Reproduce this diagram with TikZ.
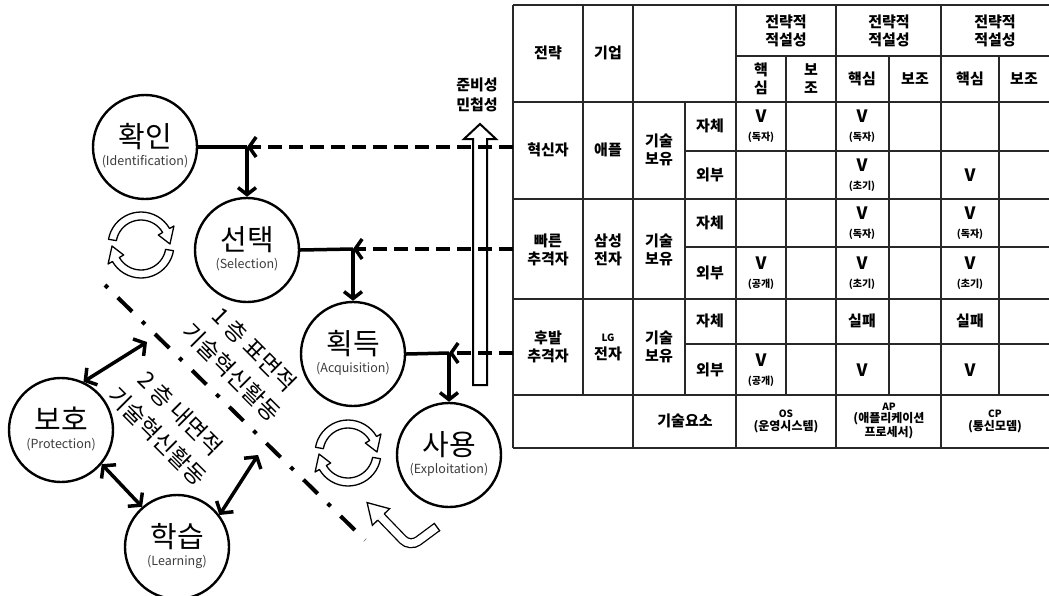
\documentclass[tikz,border=0pt]{standalone}
\usepackage{fontspec}
\setmainfont{Noto Sans CJK KR}
\usetikzlibrary{arrows.meta,positioning}
\definecolor{LineGray}{RGB}{40,40,40}
\definecolor{NoteGray}{RGB}{60,60,60}
\tikzset{
  stage/.style={circle, draw, line width=2.4pt, minimum size=104pt, inner sep=0pt,
    font=\fontsize{29}{30}\selectfont, text height=21pt, text depth=21pt},
  sub/.style={font=\fontsize{12.5}{13}\selectfont, text=NoteGray, inner sep=0pt, yshift=-15pt},
  link/.style={line width=3.5pt, -{Straight Barb[length=7pt,width=18pt]}},
  twolink/.style={line width=3.5pt, {Straight Barb[length=8pt,width=20pt]}-{Straight Barb[length=8pt,width=20pt]}},
  feed/.style={line width=3.5pt, dash pattern=on 14pt off 7pt, -{Straight Barb[length=7pt,width=20pt]}},
  hollow/.style={draw, line width=1.3pt, fill=white, line join=round},
  cell/.style={font=\bfseries\fontsize{15}{18}\selectfont, align=center, inner sep=0pt},
  grid/.style={line width=1.2pt, draw=LineGray},
  layer/.style={rotate=-45, align=center, font=\fontsize{23}{32}\selectfont, inner sep=0pt},
}
\newcommand{\vcheck}[1]{{\fontsize{17}{17}\selectfont V}\\{\fontsize{10}{12}\selectfont(#1)}}
\newcommand{\vbig}{{\fontsize{17}{17}\selectfont V}}
% one hollow arrow bent round a circle: centre x, centre y, start, end of band, tip
\newcommand{\hollowarc}[5]{%
  \draw[hollow] plot[domain=#3:#4, samples=20] ({#1+33*cos(\x)},{#2+33*sin(\x)})
    -- ({#1+38*cos(#4)},{#2+38*sin(#4)})
    -- ({#1+29*cos(#5)},{#2+29*sin(#5)})
    -- ({#1+20*cos(#4)},{#2+20*sin(#4)})
    -- plot[domain=#4:#3, samples=20] ({#1+25*cos(\x)},{#2+25*sin(\x)})
    -- cycle;}
\newcommand{\cycleicon}[2]{\hollowarc{#1}{#2}{190}{330}{358}\hollowarc{#1}{#2}{10}{150}{178}}

\begin{document}
\begin{tikzpicture}[x=1pt,y=-1pt]
\useasboundingbox (0,0) rectangle (1049,595);

% table grid
\draw[grid] (513,5) -- (1049,5);
\draw[grid] (736,56) -- (1049,56);
\foreach \y in {102,199,299,395,448} \draw[grid] (513,\y) -- (1049,\y);
\foreach \y in {151,247,344} \draw[grid] (685,\y) -- (1049,\y);
\foreach \x in {513,633,736,836,941} \draw[grid] (\x,5) -- (\x,448);
\draw[grid] (583,5) -- (583,395);
\draw[grid] (685,102) -- (685,395);
\foreach \x in {786,889,999} \draw[grid] (\x,56) -- (\x,395);

% header
\node[cell] (h-strat) at (548,53) {전략};
\node[cell] (h-firm) at (608,53) {기업};
\foreach \x/\n in {786/a,889/b,995/c} \node[cell] (h-fit\n) at (\x,31) {전략적\\적설성};
\node[cell] (h-core1) at (761,79) {핵\\심};
\node[cell] (h-sub1) at (811,79) {보\\조};
\node[cell] (h-core2) at (862,79) {핵심};
\node[cell] (h-sub2) at (915,79) {보조};
\node[cell] (h-core3) at (970,79) {핵심};
\node[cell] (h-sub3) at (1024,79) {보조};

% innovator
\node[cell] (r1-strat) at (548,150) {혁신자};
\node[cell] (r1-firm) at (608,150) {애플};
\node[cell] (r1-tech) at (659,150) {기술\\보유};
\node[cell] (r1-own) at (710,126) {자체};
\node[cell] (r1-ext) at (710,175) {외부};
\node[cell] (r1-os) at (761,126) {\vcheck{독자}};
\node[cell] (r1-ap) at (862,126) {\vcheck{독자}};
\node[cell] (r1-apx) at (862,175) {\vcheck{초기}};
\node[cell] (r1-cpx) at (970,175) {\vbig};

% fast follower
\node[cell] (r2-strat) at (548,250) {빠른\\추격자};
\node[cell] (r2-firm) at (608,250) {삼성\\전자};
\node[cell] (r2-tech) at (659,250) {기술\\보유};
\node[cell] (r2-own) at (710,223) {자체};
\node[cell] (r2-ext) at (710,273) {외부};
\node[cell] (r2-ap) at (862,223) {\vcheck{독자}};
\node[cell] (r2-cp) at (970,223) {\vcheck{독자}};
\node[cell] (r2-osx) at (761,273) {\vcheck{공개}};
\node[cell] (r2-apx) at (862,273) {\vcheck{초기}};
\node[cell] (r2-cpx) at (970,273) {\vcheck{초기}};

% late follower
\node[cell] (r3-strat) at (548,347) {후발\\추격자};
\node[cell] (r3-firm) at (608,347) {{\fontsize{10}{12}\selectfont LG}\\전자};
\node[cell] (r3-tech) at (659,347) {기술\\보유};
\node[cell] (r3-own) at (710,321) {자체};
\node[cell] (r3-ext) at (710,370) {외부};
\node[cell] (r3-ap) at (862,321) {실패};
\node[cell] (r3-cp) at (970,321) {실패};
\node[cell] (r3-osx) at (761,370) {\vcheck{공개}};
\node[cell] (r3-apx) at (862,370) {\vbig};
\node[cell] (r3-cpx) at (970,370) {\vbig};

% technology elements
\node[cell] (r4-label) at (685,421) {기술요소};
\node[cell, font=\bfseries\fontsize{12}{13}\selectfont] (r4-os) at (786,421) {{\fontsize{10}{12}\selectfont OS}\\(운영시스템)};
\node[cell, font=\bfseries\fontsize{12}{12.5}\selectfont] (r4-ap) at (889,421) {{\fontsize{10}{12}\selectfont AP}\\(애플리케이션\\프로세서)};
\node[cell, font=\bfseries\fontsize{12}{13}\selectfont] (r4-cp) at (995,421) {{\fontsize{10}{12}\selectfont CP}\\(통신모뎀)};

% readiness arrow
\draw[hollow, line width=2pt, line join=miter] (473,385) -- (473,139) -- (464,139) -- (480,124) -- (496,139) -- (487,139) -- (487,385) -- cycle;
\node[cell, font=\bfseries\fontsize{15}{20}\selectfont] (ready) at (477,95) {준비성\\민첩성};

% stages
\node[stage, label={[sub]center:(Identification)}] (hwagin) at (145,147) {확인};
\node[stage, label={[sub]center:(Selection)}] (seontaek) at (247,250) {선택};
\node[stage, label={[sub]center:(Acquisition)}] (hoekdeuk) at (353,354) {획득};
\node[stage, label={[sub]center:(Exploitation)}] (sayong) at (449,455) {사용};
\node[stage, label={[sub]center:(Protection)}] (boho) at (61,430) {보호};
\node[stage, label={[sub]center:(Learning)}] (hakseup) at (177,547) {학습};

\coordinate (j1) at (247,147);
\coordinate (j2) at (353,249);
\coordinate (j3) at (449,353);
\coordinate (t1) at (513,147);
\coordinate (t2) at (513,249);
\coordinate (t3) at (513,353);

\draw[line width=3.5pt] (hwagin.east) -- (j1);
\draw[line width=3.5pt] (seontaek.east) -- (j2);
\draw[line width=3.5pt] (hoekdeuk.east) -- (j3);
\draw[feed] (t1) -- (j1);
\draw[feed] (t2) -- (j2);
\draw[feed] (t3) -- (j3);
\draw[link] (j1) -- (seontaek.north);
\draw[link] (j2) -- (hoekdeuk.north);
\draw[link] (j3) -- (sayong.north);

% layer boundary
\coordinate (dd1) at (105,285);
\coordinate (dd2) at (365,540);
\draw[line width=4pt, dash pattern=on 4pt off 14pt on 20pt off 14pt] (dd1) -- (dd2);
\node[layer] (layer1) at (243,361) {1 층 표면적\\기술혁신활동};
\node[layer] (layer2) at (169,425) {2 층 내면적\\기술혁신활동};

\coordinate (b1) at (147,342);
\coordinate (b2) at (258,455);
\draw[twolink] (boho.65) -- (b1);
\draw[twolink] (boho.-40) -- (hakseup.131);
\draw[twolink] (hakseup.37) -- (b2);

% cycles
\cycleicon{141}{245}
\cycleicon{348}{453}

% bent arrow
\draw[line width=1.3pt, double=white, double distance=7.5pt, rounded corners=10pt] (381,517) -- (410,547) -- (437,527);
\draw[line width=1.3pt] (440,531.2) -- (434,523);
\fill[white] (367.1,502.6) -- (389.6,508.7) -- (384,514.1) -- (378,519.9) -- (372.4,525.3) -- cycle;
\draw[line width=1.3pt, line join=miter] (384.2,513.9) -- (389.6,508.7) -- (367.1,502.6) -- (372.4,525.3) -- (377.8,520.1);
\end{tikzpicture}
\end{document}
